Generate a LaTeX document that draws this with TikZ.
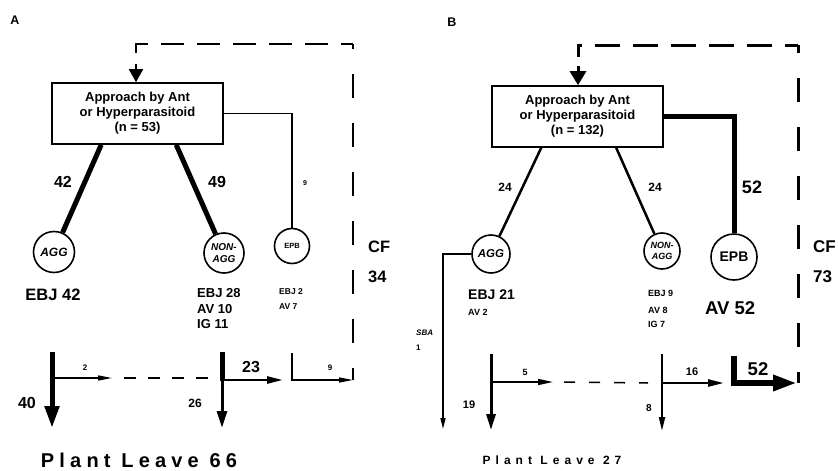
\documentclass[tikz,border=0pt]{standalone}
\usepackage{fontspec}
\setmainfont{Liberation Sans}
\usetikzlibrary{arrows.meta}
\newcommand{\fsz}[1]{\fontsize{#1}{#1}\selectfont}
\begin{document}
\begin{tikzpicture}[x=1pt,y=-1pt,
  lbl/.style={inner sep=0pt},
  box/.style={draw, line width=1.6pt, minimum width=171pt, minimum height=61pt, align=center, inner sep=0pt, font=\bfseries\fontsize{13}{15}\selectfont},
  circ/.style={draw, circle, line width=1.6pt, inner sep=0pt, align=center},
  thinflow/.style={line width=1.4pt},
  smalltip/.style={-{Triangle[length=14pt,width=5pt]}},
]
\useasboundingbox (0,0) rectangle (838,471);
\fill[white] (0,0) rectangle (838,471);

%%%%%%%%%%%%%%%% Panel A
\node[lbl, font=\bfseries\fsz{12.5}] (labA) at (15,20.5) {A};
\node[box] (boxA) at (137.5,113.5) {Approach by Ant\\or Hyperparasitoid\\(n = 53)};
\node[circ, minimum size=41pt, font=\bfseries\itshape\fsz{12}] (aggA) at (54,252) {AGG};
\node[circ, minimum size=40pt, font=\bfseries\itshape\fontsize{10}{12}\selectfont] (nonA) at (224,253) {NON-\\AGG};
\node[circ, minimum size=35pt, font=\bfseries\fsz{7.5}] (epbA) at (292,246) {EPB};

\draw[line width=5pt] ([xshift=50pt]boxA.south west) -- (aggA);
\draw[line width=5pt] ([xshift=125pt]boxA.south west) -- (nonA);
\draw[thinflow] (boxA.east) -| (epbA);

\node[lbl, font=\bfseries\fsz{16}] (n42) at (63,182) {42};
\node[lbl, font=\bfseries\fsz{16}] (n49) at (217,182) {49};
\node[lbl, font=\bfseries\fsz{7}] (n9a) at (305,183) {9};

\node[lbl, font=\bfseries\fsz{16.5}] (ebj42) at (53,295) {EBJ 42};
\node[lbl, anchor=west, font=\bfseries\fsz{13}] (ebj28) at (197,293) {EBJ 28};
\node[lbl, anchor=west, font=\bfseries\fsz{13}] (av10) at (197,309) {AV 10};
\node[lbl, anchor=west, font=\bfseries\fsz{13}] (ig11) at (197,324) {IG 11};
\node[lbl, anchor=west, font=\bfseries\fsz{8.5}] (ebj2) at (279,292) {EBJ 2};
\node[lbl, anchor=west, font=\bfseries\fsz{8.5}] (av7) at (279,307) {AV 7};
\node[lbl, anchor=west, font=\bfseries\fsz{16.5}] (cfA) at (368,247) {CF};
\node[lbl, anchor=west, font=\bfseries\fsz{16.5}] (n34) at (368,277) {34};

% flows A
\coordinate (a1) at (52,352); \coordinate (a2) at (52,428);
\coordinate (a3) at (52,378); \coordinate (a4) at (112,378);
\coordinate (a5) at (220,378);
\draw[line width=5pt, -{Triangle[length=22pt,width=14pt]}] (a1) -- (a2);
\draw[thinflow, smalltip] (a3) -- (a4);
\draw[thinflow, dash pattern=on 12pt off 12pt, dash phase=12pt] (a4) -- (a5);
\node[lbl, font=\bfseries\fsz{8}] (n2) at (85,368) {2};
\node[lbl, font=\bfseries\fsz{16}] (n40) at (27,403) {40};

\coordinate (b1) at (222,352); \coordinate (b2) at (222,381);
\coordinate (b3) at (222,379); \coordinate (b4) at (222,428);
\coordinate (b5) at (222,380); \coordinate (b6) at (283,380);
\draw[line width=5pt] (b1) -- (b2);
\draw[line width=3pt, -{Triangle[length=17pt,width=10pt]}] (b3) -- (b4);
\draw[line width=2.5pt, -{Triangle[length=16pt,width=7pt]}] (b5) -- (b6);
\node[lbl, font=\bfseries\fsz{16}] (n23) at (251,367) {23};
\node[lbl, font=\bfseries\fsz{12}] (n26) at (195,403) {26};

\coordinate (c1) at (292,353); \coordinate (c2) at (353,380);
\draw[thinflow, smalltip] (c1) |- (c2);
\node[lbl, font=\bfseries\fsz{8}] (n9b) at (330,368) {9};

% feedback A
\coordinate (fa1) at (353,380); \coordinate (fa2) at (353,44);
\coordinate (fa3) at (136,44); \coordinate (fa4) at (136,53);
\coordinate (fa5) at (136,64);
\draw[line width=1.8pt, dash pattern=on 24pt off 25pt, dash phase=12pt] (fa1) -- (fa2);
\draw[line width=1.8pt, dash pattern=on 23pt off 13pt, dash phase=11pt] (fa2) -- (fa3) -- (fa4);
\draw[line width=1.8pt, -{Triangle[length=13pt,width=14pt]}] (fa5) -- (fa5 |- boxA.north);

\node[lbl, font=\bfseries\fsz{20}\addfontfeatures{LetterSpace=26}] (plA) at (139,460) {Plant Leave 66};

%%%%%%%%%%%%%%%% Panel B
\node[lbl, font=\bfseries\fsz{12.5}] (labB) at (452,22) {B};
\node[box] (boxB) at (577.5,116.5) {Approach by Ant\\or Hyperparasitoid\\(n = 132)};
\node[circ, minimum size=38pt, font=\bfseries\itshape\fsz{11.5}] (aggB) at (491,254) {AGG};
\node[circ, minimum size=36pt, font=\bfseries\itshape\fontsize{9}{11}\selectfont] (nonB) at (662,251) {NON-\\AGG};
\node[circ, minimum size=46pt, font=\bfseries\fsz{14}] (epbB) at (734,257) {EPB};

\draw[line width=2.5pt] ([xshift=50pt]boxB.south west) -- (aggB);
\draw[line width=2.5pt] ([xshift=125pt]boxB.south west) -- (nonB);
\draw[line width=5pt] (boxB.east) -| (epbB);

\node[lbl, font=\bfseries\fsz{12}] (n24a) at (505,187) {24};
\node[lbl, font=\bfseries\fsz{12}] (n24b) at (655,187) {24};
\node[lbl, font=\bfseries\fsz{18}] (n52a) at (752,187) {52};

\coordinate (sbaEnd) at (443,429);
\draw[thinflow, -{Triangle[length=11pt,width=5pt]}] (aggB.west) -| (sbaEnd);
\node[lbl, anchor=west, font=\bfseries\itshape\fsz{8}] (sba) at (416,333) {SBA};
\node[lbl, anchor=west, font=\bfseries\fsz{8}] (n1) at (416,348) {1};

\node[lbl, anchor=west, font=\bfseries\fsz{14}] (ebj21) at (468,295) {EBJ 21};
\node[lbl, anchor=west, font=\bfseries\fsz{9}] (av2) at (468,312) {AV 2};
\node[lbl, anchor=west, font=\bfseries\fsz{9}] (ebj9) at (648,293) {EBJ 9};
\node[lbl, anchor=west, font=\bfseries\fsz{9}] (av8) at (648,310) {AV 8};
\node[lbl, anchor=west, font=\bfseries\fsz{9}] (ig7) at (648,324) {IG 7};
\node[lbl, anchor=west, font=\bfseries\fsz{18.5}] (av52) at (705,308) {AV 52};
\node[lbl, anchor=west, font=\bfseries\fsz{17}] (cfB) at (813,247) {CF};
\node[lbl, anchor=west, font=\bfseries\fsz{17}] (n73) at (813,277) {73};

% flows B
\coordinate (d1) at (491,354); \coordinate (d2) at (491,430);
\coordinate (d3) at (491,382); \coordinate (d4) at (553,382);
\coordinate (d5) at (648,383);
\draw[line width=3pt, -{Triangle[length=16pt,width=9pt]}] (d1) -- (d2);
\draw[line width=1.5pt, -{Triangle[length=15pt,width=6pt]}] (d3) -- (d4);
\draw[line width=1.5pt, dash pattern=on 11pt off 14pt, dash phase=14pt] (d4) -- (d5);
\node[lbl, font=\bfseries\fsz{9}] (n5) at (525,372) {5};
\node[lbl, font=\bfseries\fsz{11}] (n19) at (469,405) {19};

\coordinate (e1) at (662,354); \coordinate (e2) at (662,431);
\coordinate (e3) at (662,383); \coordinate (e4) at (724,383);
\draw[line width=2pt, -{Triangle[length=14pt,width=6pt]}] (e1) -- (e2);
\draw[line width=2.5pt, -{Triangle[length=16pt,width=7pt]}] (e3) -- (e4);
\node[lbl, font=\bfseries\fsz{11}] (n16) at (692,372) {16};
\node[lbl, font=\bfseries\fsz{10}] (n8) at (649,408) {8};

\coordinate (g1) at (734,356); \coordinate (g2) at (797,383);
\draw[line width=6pt, -{Triangle[length=24pt,width=15pt]}] (g1) |- (g2);
\node[lbl, font=\bfseries\fsz{18.5}] (n52b) at (758,369) {52};

% feedback B
\coordinate (fb1) at (798,383); \coordinate (fb2) at (798,45);
\coordinate (fb3) at (578,45); \coordinate (fb4) at (578,57);
\coordinate (fb5) at (578,66);
\draw[line width=3pt, dash pattern=on 24pt off 25pt, dash phase=13pt] (fb1) -- (fb2);
\draw[line width=3pt, dash pattern=on 25pt off 13pt, dash phase=12pt] (fb2) -- (fb3) -- (fb4);
\draw[line width=3pt, -{Triangle[length=14pt,width=16pt]}] (fb5) -- (fb5 |- boxB.north);

\node[lbl, font=\bfseries\fsz{12}\addfontfeatures{LetterSpace=42}] (plB) at (552,460) {Plant Leave 27};
\end{tikzpicture}
\end{document}
